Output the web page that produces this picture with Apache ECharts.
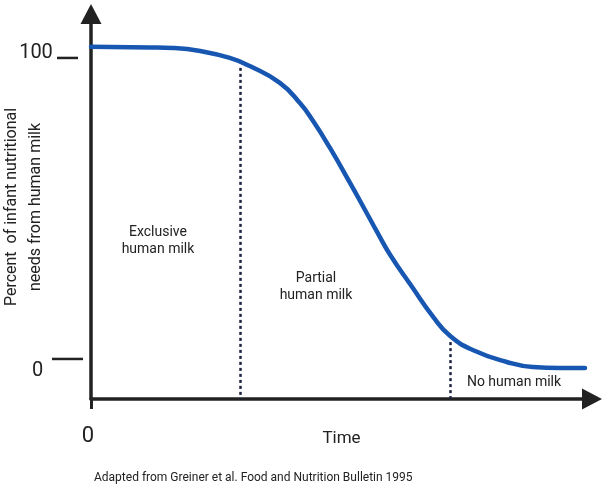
<!DOCTYPE html>
<html>
<head>
<meta charset="utf-8">
<script src="https://cdn.jsdelivr.net/npm/echarts@6/dist/echarts.min.js"></script>
<style>
  html, body { margin: 0; padding: 0; background: #fff; }
  #chart { width: 606px; height: 491px; }
</style>
</head>
<body>
<div id="chart"></div>
<script>
// curve: time (0-100, arbitrary units) vs percent of needs from human milk
const timeX = [0, 11.8, 16.4, 21.8, 27.7, 31.7, 37.7, 41.7, 44.3, 47.7, 51.7, 54.7, 57.1, 59.7, 64.1, 68.3, 71.7, 76.2, 83.0, 88.2, 93.6, 98.6];
const percentY = [103.7, 103.5, 103.3, 102.3, 100.0, 97.3, 91.7, 85.0, 79.1, 70.1, 58.5, 49.5, 42.2, 34.6, 23.9, 14.0, 7.6, 3.0, -1.0, -2.7, -3.0, -3.0];

// dotted dividers between the phases
const dividerX = [29.7, 71.7];
const dividerTop = [96.7, 5.6];

const yTicks = [100, 0];
const yTickLabels = ["100", "0"];
const phaseLabels = ["Exclusive\nhuman milk", "Partial\nhuman milk", "No human milk"];

const yMin = -13.3, yMax = 114.6;
const ink = "#222222";
const font = "Roboto, 'Noto Sans', sans-serif";

const chart = echarts.init(document.getElementById("chart"));

const curve = timeX.map((x, i) => [x, percentY[i]]);

const option = {
  animation: false,
  grid: { left: 91, right: 14, top: 14, bottom: 92, containLabel: false, outerBoundsMode: "none" },
  xAxis: {
    type: "value",
    min: 0,
    max: 100,
    name: "Time",
    nameLocation: "middle",
    nameGap: 31,
    nameMoveOverlap: false,
    nameTextStyle: { fontSize: 17, color: ink, fontFamily: font },
    axisLine: {
      show: true,
      onZero: false,
      symbol: ["none", "triangle"],
      symbolSize: [21, 20],
      lineStyle: { color: ink, width: 3.5 }
    },
    axisTick: { show: true, customValues: [0], length: 10, lineStyle: { color: ink, width: 3 } },
    axisLabel: { show: true, customValues: [0], margin: 26, fontSize: 22, color: ink, fontFamily: font, padding: [0, 6, 0, 0] },
    splitLine: { show: false }
  },
  yAxis: {
    type: "value",
    min: yMin,
    max: yMax,
    axisLine: {
      show: true,
      onZero: false,
      symbol: ["none", "triangle"],
      symbolSize: [21, 20],
      lineStyle: { color: ink, width: 3.5 }
    },
    axisTick: { show: false },
    axisLabel: { show: false },
    splitLine: { show: false }
  },
  series: [
    {
      type: "line",
      data: curve,
      smooth: 0.5,
      showSymbol: false,
      silent: true,
      lineStyle: { color: "#1857b1", width: 4.5, cap: "round" },
      markLine: {
        silent: true,
        symbol: "none",
        label: { show: false },
        lineStyle: { color: "#1c2342", width: 2.5, type: [3, 3] },
        data: dividerX.map((x, i) => [
          { coord: [x, dividerTop[i]] },
          { coord: [x, yMin] }
        ])
      }
    }
  ]
};

chart.setOption(option);

// y tick dashes and labels, placed through the axis scale
const dashSpec = [
  { x1: 57, x2: 78, labelX: 36, dy: -5 },
  { x1: 52, x2: 83, labelX: 37.5, dy: 12 }
];
const graphics = [];
yTicks.forEach((v, i) => {
  const py = chart.convertToPixel({ yAxisIndex: 0 }, v);
  const s = dashSpec[i];
  graphics.push({
    type: "line",
    shape: { x1: s.x1, y1: py, x2: s.x2, y2: py },
    style: { stroke: ink, lineWidth: 2.5 }
  });
  graphics.push({
    type: "text",
    x: s.labelX,
    y: py + s.dy,
    style: { text: yTickLabels[i], fontSize: 20, fill: ink, fontFamily: font, align: "center", verticalAlign: "middle" }
  });
});

// y axis title (rotated)
graphics.push({
  type: "text",
  x: 24,
  y: 207,
  rotation: Math.PI / 2,
  style: {
    text: "Percent  of infant nutritional\nneeds from human milk",
    fontSize: 16,
    lineHeight: 24,
    fill: ink,
    fontFamily: font,
    align: "center",
    verticalAlign: "middle"
  }
});

// phase labels
const phasePos = [[158, 241], [316, 287], [514, 382]];
phaseLabels.forEach((t, i) => {
  graphics.push({
    type: "text",
    x: phasePos[i][0],
    y: phasePos[i][1],
    style: { text: t, fontSize: 14, lineHeight: 17, fill: ink, fontFamily: font, align: "center", verticalAlign: "middle" }
  });
});

// source caption
graphics.push({
  type: "text",
  x: 94,
  y: 478,
  style: {
    text: "Adapted from Greiner et al. Food and Nutrition Bulletin 1995",
    fontSize: 12,
    fill: ink,
    fontFamily: font,
    align: "left",
    verticalAlign: "middle"
  }
});

chart.setOption({ graphic: graphics });
</script>
</body>
</html>
